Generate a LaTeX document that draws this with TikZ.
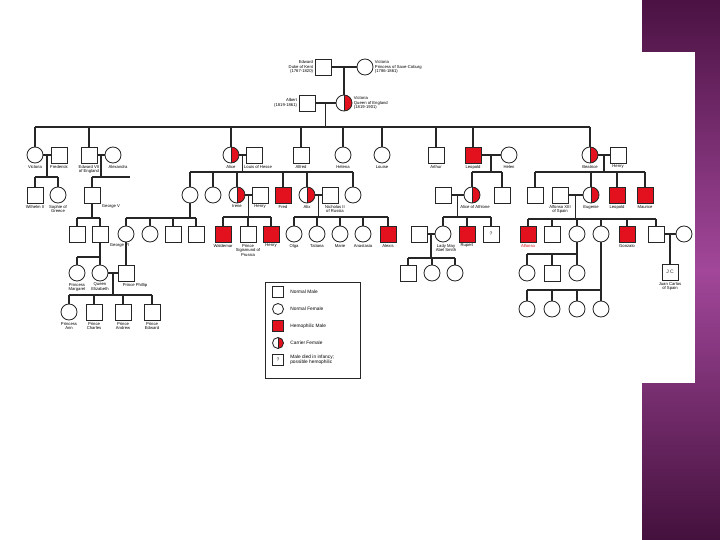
\documentclass[tikz,border=0pt]{standalone}
\usepackage{fontspec}
\setmainfont{Liberation Sans}
\usepackage{xcolor}
\usetikzlibrary{calc,positioning}
\definecolor{hemored}{HTML}{E3111D}
\definecolor{plumdark}{HTML}{4B1243}
\definecolor{plumlight}{HTML}{A2479A}
\begin{document}
\begin{tikzpicture}[
  x=1pt, y=-1pt,
  color=black!85, line width=1.1pt,
  male/.style={draw, rectangle, fill=white, minimum size=16pt, inner sep=0pt, line width=0.85pt},
  female/.style={draw, circle, fill=white, minimum size=16pt, inner sep=0pt, line width=0.85pt},
  hemo/.style={male, fill=hemored},
  carrier/.style={female, path picture={
      \fill[hemored] (path picture bounding box.north) rectangle (path picture bounding box.south east);
      \draw[line width=0.6pt] (path picture bounding box.north) -- (path picture bounding box.south);}},
  lbl/.style={font=\fontsize{4.2}{4.7}\selectfont, align=center, inner sep=1pt, text=black},
  keytext/.style={font=\fontsize{4.8}{5.4}\selectfont, align=left, inner sep=0pt, anchor=west, text=black}
]
% slide background
\fill[white] (0,0) rectangle (720,540);
\shade[top color=plumdark, bottom color=plumdark!90!black, middle color=plumlight] (642,0) rectangle (720,540);
\fill[white] (642,52) rectangle (695,383);
\useasboundingbox (0,0) rectangle (720,540);

% generation I
\node[male] (edk) at (323,67) [label={[lbl,align=right]left:{Edward\\Duke of Kent\\(1767-1820)}}] {};
\node[female] (vps) at (365,67) [label={[lbl,align=left]right:{Victoria\\Princess of Saxe-Coburg\\(1786-1861)}}] {};
\node[male] (alb) at (307,103) [label={[lbl,align=right]left:{Albert\\(1819-1861)}}] {};
\node[carrier] (qv) at (344,103) [label={[lbl,align=left]right:{Victoria\\Queen of England\\(1819-1901)}}] {};

% generation II
\node[female] (vic) at (35,155) [label={[lbl]below:Victoria}] {};
\node[male] (fre) at (59,155) [label={[lbl]below:Frederick}] {};
\node[male] (e7) at (89,155) [label={[lbl]below:{Edward VII\\of England}}] {};
\node[female] (alx) at (113,155) [label={[lbl,xshift=5pt]below:Alexandra}] {};
\node[carrier] (ali) at (231,155) [label={[lbl]below:Alice}] {};
\node[male] (lou) at (254,155) [label={[lbl,xshift=4pt]below:Louis of Hesse}] {};
\node[male] (alf) at (301,155) [label={[lbl]below:Alfred}] {};
\node[female] (hel) at (343,155) [label={[lbl]below:Helena}] {};
\node[female] (lse) at (382,155) [label={[lbl]below:Louise}] {};
\node[male] (art) at (436,155) [label={[lbl]below:Arthur}] {};
\node[hemo] (leo) at (473,155) [label={[lbl]below:Leopold}] {};
\node[female] (hln) at (509,155) [label={[lbl]below:Helen}] {};
\node[carrier] (bea) at (590,155) [label={[lbl]below:Beatrice}] {};
\node[male] (hen) at (618,155) [label={[lbl]below:Henry}] {};

% generation III
\node[male] (w2) at (35,195) [label={[lbl]below:Wilhelm II}] {};
\node[female] (sop) at (58,195) [label={[lbl]below:{Sophie of\\Greece}}] {};
\node[male] (g5) at (92,195) [label={[lbl]below right:George V}] {};
\node[female] (vh) at (190,195) {};
\node[female] (el) at (213,195) {};
\node[carrier] (ire) at (237,195) [label={[lbl]below:Irene}] {};
\node[male] (hhe) at (260,195) [label={[lbl]below:Henry}] {};
\node[hemo] (frd) at (283,195) [label={[lbl]below:Fred}] {};
\node[carrier] (aix) at (307,195) [label={[lbl]below:Alix}] {};
\node[male] (nic) at (330,195) [label={[lbl,xshift=5pt]below:{Nicholas II\\of Russia}}] {};
\node[female] (ma) at (353,195) {};
\node[male] (ath) at (443,195) {};
\node[carrier] (aoa) at (472,195) [label={[lbl,xshift=3pt]below:Alice of Athlone}] {};
\node[male] (che) at (502,195) {};
\node[male] (ale) at (535,195) {};
\node[male] (a13) at (560,195) [label={[lbl]below:{Alfonso XIII\\of Spain}}] {};
\node[carrier] (eug) at (591,195) [label={[lbl]below:Eugenie}] {};
\node[hemo] (lpo) at (617,195) [label={[lbl]below:Leopold}] {};
\node[hemo] (mau) at (645,195) [label={[lbl]below:Maurice}] {};

% generation IV
\node[male] (e8) at (77,234) {};
\node[male] (g6) at (100,234) [label={[lbl]below right:George VI}] {};
\node[female] (ab) at (126,234) {};
\node[female] (cc) at (150,234) {};
\node[male] (gg) at (173,234) {};
\node[male] (lm) at (196,234) {};
\node[hemo] (wal) at (223,234) [label={[lbl]below:Waldemar}] {};
\node[male] (sig) at (248,234) [label={[lbl]below:{Prince\\Sigismund of\\Prussia}}] {};
\node[hemo] (hrr) at (271,234) [label={[lbl]below:Henry}] {};
\node[female] (olg) at (294,234) [label={[lbl]below:Olga}] {};
\node[female] (tat) at (317,234) [label={[lbl]below:Tatiana}] {};
\node[female] (mar) at (340,234) [label={[lbl]below:Marie}] {};
\node[female] (ana) at (363,234) [label={[lbl]below:Anastasia}] {};
\node[hemo] (axs) at (388,234) [label={[lbl]below:Alexis}] {};
\node[male] (abs) at (419,234) {};
\node[female] (lmy) at (443,234) [label={[lbl,xshift=3pt]below:{Lady May\\Abel Smith}}] {};
\node[hemo] (rup) at (467,234) [label={[lbl]below:Rupert}] {};
\node[male, line width=0.5pt, font=\fontsize{5}{5}\selectfont] (unk) at (491,234) {?};
\node[hemo] (afs) at (528,234) [label={[lbl,text=hemored]below:Alfonso}] {};
\node[male] (jai) at (552,234) {};
\node[female] (btz) at (577,234) {};
\node[female] (mcr) at (601,234) {};
\node[hemo] (gon) at (627,234) [label={[lbl]below:Gonzalo}] {};
\node[male] (jua) at (656,234) {};
\node[female] (mer) at (684,234) {};

% generation V
\node[female] (mgt) at (77,273) [label={[lbl]below:{Princess\\Margaret}}] {};
\node[female] (eli) at (100,273) [label={[lbl]below:{Queen\\Elizabeth}}] {};
\node[male] (phi) at (126,273) [label={[lbl,xshift=9pt]below:Prince Phillip}] {};
\node[male] (as1) at (408,273) {};
\node[female] (as2) at (432,273) {};
\node[female] (as3) at (455,273) {};
\node[female] (bz1) at (527,273) {};
\node[male] (bz2) at (552,273) {};
\node[female] (bz3) at (577,273) {};
\node[male, font=\fontsize{5}{5}\selectfont] (jc) at (670,272) [label={[lbl]below:{Juan Carlos\\of Spain}}] {J C};
\node[female] (mc1) at (527,309) {};
\node[female] (mc2) at (552,309) {};
\node[female] (mc3) at (577,309) {};
\node[female] (mc4) at (601,309) {};

% generation VI
\node[female] (ann) at (69,312) [label={[lbl]below:{Princess\\Ann}}] {};
\node[male] (cha) at (94,312) [label={[lbl]below:{Prince\\Charles}}] {};
\node[male] (andr) at (123,312) [label={[lbl]below:{Prince\\Andrew}}] {};
\node[male] (edw) at (152,312) [label={[lbl]below:{Prince\\Edward}}] {};

% couples
\draw (edk) -- (vps);
\draw (alb) -- (qv);
\draw (vic) -- (fre);
\draw (e7) -- (alx);
\draw (ali) -- (lou);
\draw (leo) -- (hln);
\draw (bea) -- (hen);
\draw (ire) -- (hhe);
\draw (aix) -- (nic);
\draw (ath) -- (aoa);
\draw (a13) -- (eug);
\draw (abs) -- (lmy);
\draw (jua) -- (mer);
\draw (eli) -- (phi);
\draw (ab) -- (phi);

\coordinate (c0) at ($(edk)!.5!(vps)$);
\coordinate (c1) at ($(alb)!.5!(qv)$);
\coordinate (c2) at ($(vic)!.5!(fre)$);
\coordinate (c3) at ($(e7)!.5!(alx)$);
\coordinate (c4) at ($(ali)!.5!(lou)$);
\coordinate (c5) at ($(leo)!.5!(hln)$);
\coordinate (c6) at ($(bea)!.5!(hen)$);
\coordinate (c7) at ($(ire)!.5!(hhe)$);
\coordinate (c8) at ($(aix)!.5!(nic)$);
\coordinate (c9) at ($(ath)!.5!(aoa)$);
\coordinate (c10) at ($(a13)!.5!(eug)$);
\coordinate (c11) at ($(abs)!.5!(lmy)$);
\coordinate (c12) at ($(jua)!.5!(mer)$);
\coordinate (c13) at ($(eli)!.5!(phi)$);

% sibship lines
\coordinate (s0) at (0,127);
\coordinate (s1) at (0,177);
\coordinate (s2e) at (130,177);
\coordinate (s3) at (0,172);
\coordinate (s6) at (0,217);
\coordinate (s8) at (0,218);
\coordinate (s11) at (0,219);
\coordinate (s12) at (0,257);
\coordinate (s13) at (0,258);
\coordinate (s14) at (0,254);
\coordinate (s15) at (0,290);
\coordinate (s16) at (0,295);

\draw (c0) -- (qv);
\draw (c1) -- (c1 |- s0);
\draw (vic |- s0) -- (bea |- s0);
\foreach \n in {vic,e7,ali,alf,hel,lse,art,leo,bea} \draw (\n) -- (\n |- s0);

\draw (c2) -- (c2 |- s1);
\draw (w2 |- s1) -- (sop |- s1);
\foreach \n in {w2,sop} \draw (\n) -- (\n |- s1);

\draw (c3) -- (c3 |- s1);
\draw (g5 |- s1) -- (s2e);
\draw (g5) -- (g5 |- s1);

\draw (c4) -- (c4 |- s3);
\draw (vh |- s3) -- (ma |- s3);
\foreach \n in {vh,el,ire,frd,aix,ma} \draw (\n) -- (\n |- s3);

\draw (c5) -- (c5 |- s3);
\draw (aoa |- s3) -- (che |- s3);
\foreach \n in {aoa,che} \draw (\n) -- (\n |- s3);

\draw (c6) -- (c6 |- s3);
\draw (ale |- s3) -- (mau |- s3);
\foreach \n in {ale,eug,lpo,mau} \draw (\n) -- (\n |- s3);

\draw (g5) -- (g5 |- s8);
\draw (e8 |- s8) -- (g6 |- s8);
\foreach \n in {e8,g6} \draw (\n) -- (\n |- s8);

\draw (vh) -- (vh |- s8);
\draw (ab |- s8) -- (lm |- s8);
\foreach \n in {ab,cc,gg,lm} \draw (\n) -- (\n |- s8);

\draw (c7) -- (c7 |- s6);
\draw (wal |- s6) -- (hrr |- s6);
\foreach \n in {wal,sig,hrr} \draw (\n) -- (\n |- s6);

\draw (c8) -- (c8 |- s6);
\draw (olg |- s6) -- (axs |- s6);
\foreach \n in {olg,tat,mar,ana,axs} \draw (\n) -- (\n |- s6);

\draw (c9) -- (c9 |- s6);
\draw (lmy |- s6) -- (unk |- s6);
\foreach \n in {lmy,rup,unk} \draw (\n) -- (\n |- s6);

\draw (c10) -- (c10 |- s11);
\draw (afs |- s11) -- (jua |- s11);
\foreach \n in {afs,jai,btz,mcr,gon,jua} \draw (\n) -- (\n |- s11);

\draw (g6) -- (g6 |- s12);
\draw (mgt |- s12) -- (eli |- s12);
\foreach \n in {mgt,eli} \draw (\n) -- (\n |- s12);

\draw (c11) -- (c11 |- s13);
\draw (as1 |- s13) -- (as3 |- s13);
\foreach \n in {as1,as2,as3} \draw (\n) -- (\n |- s13);

\draw (btz) -- (btz |- s14);
\draw (bz1 |- s14) -- (bz3 |- s14);
\foreach \n in {bz1,bz2,bz3} \draw (\n) -- (\n |- s14);

\draw (mcr) -- (mcr |- s15);
\draw (mc1 |- s15) -- (mc4 |- s15);
\foreach \n in {mc1,mc2,mc3,mc4} \draw (\n) -- (\n |- s15);

\draw (c12) -- (jc);

\draw (c13) -- (c13 |- s16);
\draw (ann |- s16) -- (edw |- s16);
\foreach \n in {ann,cha,andr,edw} \draw (\n) -- (\n |- s16);

% legend
\node[draw, line width=0.8pt, anchor=north west, minimum width=95pt, minimum height=96pt, inner sep=0pt] (legend) at (265,282) {};
\node[male, minimum size=11pt] (k1) at (278,292) {};
\node[female, minimum size=11pt] (k2) at (278,309) {};
\node[hemo, minimum size=11pt] (k3) at (278,326) {};
\node[carrier, minimum size=11pt] (k4) at (278,343) {};
\node[male, minimum size=11pt, line width=0.5pt, font=\fontsize{5}{5}\selectfont] (k5) at (278,360) {?};
\node[keytext, right=6pt of k1] (t1) {Normal Male};
\node[keytext, right=6pt of k2] (t2) {Normal Female};
\node[keytext, right=6pt of k3] (t3) {Hemophilic Male};
\node[keytext, right=6pt of k4] (t4) {Carrier Female};
\node[keytext, right=6pt of k5] (t5) {Male died in infancy;\\possible hemophilic};
\end{tikzpicture}
\end{document}
